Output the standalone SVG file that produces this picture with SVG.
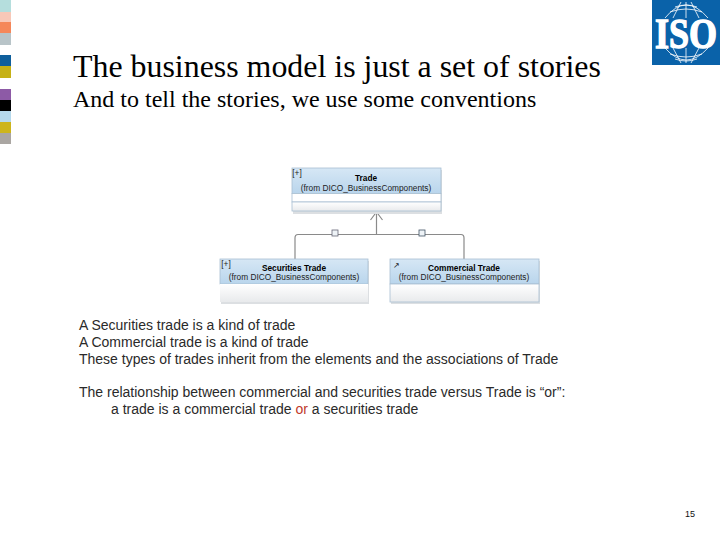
<svg xmlns="http://www.w3.org/2000/svg" width="720" height="540" viewBox="0 0 720 540">
<defs>
<linearGradient id="hd" x1="0" y1="0" x2="0" y2="1"><stop offset="0" stop-color="#d6e7f5"/><stop offset="1" stop-color="#b9d5ec"/></linearGradient>
<linearGradient id="bd" x1="0" y1="0" x2="0" y2="1"><stop offset="0" stop-color="#ffffff"/><stop offset="1" stop-color="#e8eaec"/></linearGradient>
</defs>
<style>
.ti{font-family:"Liberation Serif",serif;fill:#000}
.b{font-family:"Liberation Sans",Arial,sans-serif;font-size:14px;fill:#2a2a2a}
.u{font-family:"Liberation Sans",Arial,sans-serif;font-size:8.300px;fill:#222;text-anchor:middle}
.ub{font-weight:bold;fill:#000}
.box{stroke:#a9bfd2;stroke-width:.8}
.sh{fill:#dcdfe2}
.con{fill:none;stroke:#8a8a8a;stroke-width:1.2}
.gl{fill:none;stroke:#fff;stroke-width:.8}
</style>
<g id="swatches">
<rect x="0" y="0" width="11" height="12" fill="#b5dedd"/>
<rect x="0" y="12" width="11" height="10" fill="#f8c8b8"/>
<rect x="0" y="22" width="11" height="11" fill="#f5875a"/>
<rect x="0" y="33" width="11" height="12" fill="#b8c4c8"/>
<rect x="0" y="55" width="11" height="11" fill="#0f5f9c"/>
<rect x="0" y="66" width="11" height="12" fill="#c6b116"/>
<rect x="0" y="89" width="11" height="11" fill="#8d5aa6"/>
<rect x="0" y="100" width="11" height="11" fill="#000"/>
<rect x="0" y="111" width="11" height="11" fill="#b5d9ec"/>
<rect x="0" y="122" width="11" height="11" fill="#cdb51c"/>
<rect x="0" y="133" width="11" height="11" fill="#aaa6a2"/>
</g>
<g id="iso-logo">
<rect x="652" y="0" width="68" height="65" fill="#0a62a9"/>
<path class="gl" d="M665 18Q686-8 708 18M670 12Q686 6 702 12M675 7Q686 3 697 7M673 18L681 2M699 18L691 2M686 2V18M665 48Q686 72 708 48M670 54Q686 60 702 54M675 59Q686 63 697 59M673 48L681 63M699 48L691 63M686 48V63"/>
<text transform="translate(686 47.500) scale(1 1.150)" text-anchor="middle" font-family="'Liberation Serif',serif" font-weight="bold" font-size="36" fill="#fff" stroke="#fff" stroke-width="1.200">ISO</text>
</g>
<g id="titles">
<text class="ti" x="73" y="77" font-size="31.900">The business model is just a set of stories</text>
<text class="ti" x="73" y="107" font-size="24">And to tell the stories, we use some conventions</text>
</g>
<g id="connectors">
<path class="con" d="M295 259V238Q295 234.500 298 234.500H461Q464 234.500 464 238V259"/>
<path class="con" d="M376.500 234.500V213M370.500 220L376.500 212L382.500 220"/>
<rect x="332" y="230" width="6" height="6" fill="#eef3f7" stroke="#667" stroke-width=".8"/>
<rect x="419" y="230" width="6" height="6" fill="#eef3f7" stroke="#456" stroke-width=".8"/>
</g>
<g id="node-trade">
<rect class="sh" x="293" y="170" width="149" height="44"/>
<rect class="box" x="292" y="168" width="149" height="25.500" fill="url(#hd)"/>
<rect class="box" x="292" y="193.500" width="149" height="8.500" fill="#fff"/>
<rect class="box" x="292" y="202" width="149" height="9" fill="url(#bd)"/>
<text class="u ub" x="366" y="180.500">Trade</text>
<text class="u" x="366" y="190.500">(from DICO_BusinessComponents)</text>
<text class="u" x="297" y="176" font-size="7">[+]</text>
</g>
<g id="node-securities">
<rect class="sh" x="221" y="261" width="148" height="43"/>
<rect class="box" x="220" y="259" width="148" height="25" fill="url(#hd)"/>
<rect x="220" y="284" width="148" height="18" fill="url(#bd)"/>
<text class="u ub" x="294" y="270.500">Securities Trade</text>
<text class="u" x="294" y="279.500">(from DICO_BusinessComponents)</text>
<text class="u" x="226" y="267" font-size="7">[+]</text>
</g>
<g id="node-commercial">
<rect class="sh" x="391" y="261" width="149" height="43"/>
<rect class="box" x="390" y="259" width="149" height="25" fill="url(#hd)"/>
<rect x="390" y="284" width="149" height="18" fill="url(#bd)" stroke="#a9bfd2" stroke-width=".8"/>
<text class="u ub" x="464" y="270.500">Commercial Trade</text>
<text class="u" x="464" y="279.500">(from DICO_BusinessComponents)</text>
<text class="u" x="396" y="268" font-size="7">↗</text>
</g>
<g id="body">
<text class="b" x="79" y="329.500">A Securities trade is a kind of trade</text>
<text class="b" x="79" y="346.500">A Commercial trade is a kind of trade</text>
<text class="b" x="79" y="363.500">These types of trades inherit from the elements and the associations of Trade</text>
<text class="b" x="79" y="396.500">The relationship between commercial and securities trade versus Trade is “or”:</text>
<text class="b" x="111" y="413.500">a trade is a commercial trade <tspan fill="#c0392b">or</tspan> a securities trade</text>
</g>
<text id="page" x="685" y="517" font-family="'Liberation Sans',Arial,sans-serif" font-size="9" fill="#111">15</text>
</svg>
